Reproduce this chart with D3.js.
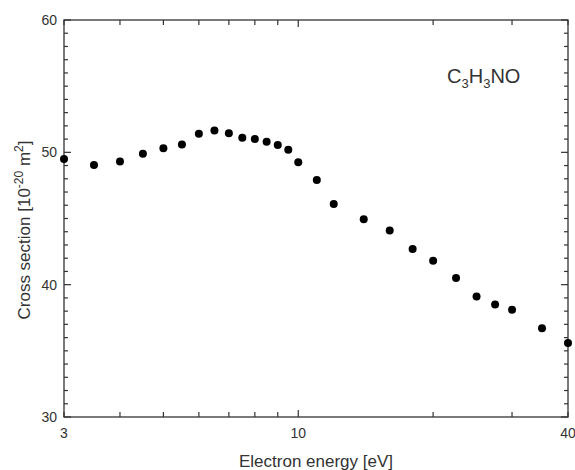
<!DOCTYPE html>
<html>
<head>
<meta charset="utf-8">
<script src="https://cdn.jsdelivr.net/npm/d3@7"></script>
<style>
  body { margin: 0; background: #fff; }
  svg text { font-family: "Liberation Sans", Arial, sans-serif; fill: #333; }
</style>
</head>
<body>
<svg></svg>
<script>
const width = 575;
const height = 470;

// electron energy [eV]
const energy = [3, 3.5, 4, 4.5, 5, 5.5, 6, 6.5, 7, 7.5, 8, 8.5, 9, 9.5, 10,
  11, 12, 14, 16, 18, 20, 22.5, 25, 27.5, 30, 35, 40];
// cross section [1e-20 m2]
const crossSection = [49.5, 49.05, 49.3, 49.9, 50.3, 50.6, 51.4, 51.65, 51.45, 51.1, 51.0, 50.8, 50.55, 50.2, 49.25,
  47.9, 46.1, 44.95, 44.1, 42.7, 41.8, 40.5, 39.1, 38.5, 38.1, 36.7, 35.6];

const xTickValues = [3, 4, 5, 6, 7, 8, 9, 10, 20, 30, 40];
const xLabelValues = [3, 10, 40];
const yTickValues = d3.range(30, 61, 1);
const yLabelValues = [30, 40, 50, 60];

const margin = {left: 64, right: 7, top: 20, bottom: 53};
const svg = d3.select('svg').attr('width', width).attr('height', height);

const x = d3.scaleLog().domain([3, 40]).range([margin.left, width - margin.right]);
const y = d3.scaleLinear().domain([30, 60]).range([height - margin.bottom, margin.top]);

const x0 = x.range()[0], x1 = x.range()[1];
const y0 = y.range()[0], y1 = y.range()[1];
const axisColor = '#333';

// frame
svg.append('rect')
    .attr('x', x0).attr('y', y1)
    .attr('width', x1 - x0).attr('height', y0 - y1)
    .style('fill', 'none')
    .style('stroke', axisColor)
    .style('stroke-width', 1.3);

// x ticks, bottom and top, pointing inward
const xTickLen = d => d === 10 ? 7 : 5;
const xt = svg.append('g').selectAll('g').data(xTickValues).enter().append('g');
xt.append('line')
    .attr('x1', d => x(d)).attr('x2', d => x(d))
    .attr('y1', y0).attr('y2', d => y0 - xTickLen(d));
xt.append('line')
    .attr('x1', d => x(d)).attr('x2', d => x(d))
    .attr('y1', y1).attr('y2', d => y1 + xTickLen(d));
xt.selectAll('line').style('stroke', axisColor).style('stroke-width', 1.2);

svg.append('g').selectAll('text').data(xLabelValues).enter().append('text')
    .attr('x', d => x(d))
    .attr('y', y0 + 21)
    .attr('text-anchor', 'middle')
    .style('font-size', '14px')
    .text(d => d);

// y ticks, left and right
const yTickLen = d => yLabelValues.includes(d) ? 7 : 4;
const yt = svg.append('g').selectAll('g').data(yTickValues).enter().append('g');
yt.append('line')
    .attr('y1', d => y(d)).attr('y2', d => y(d))
    .attr('x1', x0).attr('x2', d => x0 + yTickLen(d));
yt.append('line')
    .attr('y1', d => y(d)).attr('y2', d => y(d))
    .attr('x1', x1).attr('x2', d => x1 - yTickLen(d));
yt.selectAll('line').style('stroke', axisColor).style('stroke-width', 1.2);

svg.append('g').selectAll('text').data(yLabelValues).enter().append('text')
    .attr('x', x0 - 7)
    .attr('y', d => y(d) + 5)
    .attr('text-anchor', 'end')
    .style('font-size', '14px')
    .text(d => d);

// points
svg.append('g').selectAll('circle')
    .data(energy.map((e, i) => [e, crossSection[i]]))
    .enter().append('circle')
    .attr('cx', d => x(d[0]))
    .attr('cy', d => y(d[1]))
    .attr('r', 4)
    .style('fill', '#000');

// axis titles
svg.append('text')
    .attr('x', 316)
    .attr('y', 467)
    .attr('text-anchor', 'middle')
    .style('font-size', '17px')
    .text('Electron energy [eV]');

const yTitle = svg.append('text')
    .attr('transform', `translate(30, 230) rotate(-90)`)
    .attr('text-anchor', 'middle')
    .style('font-size', '17px');
yTitle.append('tspan').text('Cross section [10');
yTitle.append('tspan').attr('dy', -7).style('font-size', '12px').text('-20');
yTitle.append('tspan').attr('dy', 7).text(' m');
yTitle.append('tspan').attr('dy', -7).style('font-size', '12px').text('2');
yTitle.append('tspan').attr('dy', 7).text(']');

// molecule label
const mol = svg.append('text')
    .attr('x', 447)
    .attr('y', 83)
    .style('font-size', '20px');
mol.append('tspan').text('C');
mol.append('tspan').attr('dy', 5).style('font-size', '13px').text('3');
mol.append('tspan').attr('dy', -5).text('H');
mol.append('tspan').attr('dy', 5).style('font-size', '13px').text('3');
mol.append('tspan').attr('dy', -5).text('NO');
</script>
</body>
</html>
